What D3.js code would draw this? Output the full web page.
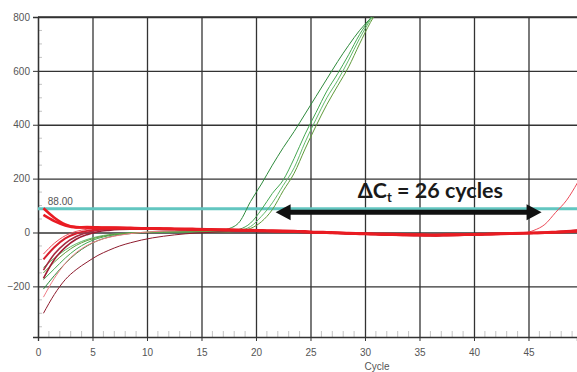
<!DOCTYPE html>
<html>
<head>
<meta charset="utf-8">
<script src="https://cdnjs.cloudflare.com/ajax/libs/d3/7.8.5/d3.min.js"></script>
<style>
body { margin: 0; background: #fff; }
.tick text, .lbl { font-family: "Liberation Sans Narrow", "Liberation Sans", sans-serif; font-size: 10px; fill: #555; }
</style>
</head>
<body>
<div id="chart"></div>
<script>
const cycles = [0.5, 1.5, 2.5, 3.5, 4.5, 5.5, 6.5, 7.5, 8.5, 9.5,
	10.5, 11.5, 12.5, 13.5, 14.5, 15.5, 16.5, 17.5, 18.5, 19.5,
	20.5, 21.5, 22.5, 23.5, 24.5, 25.5, 26.5, 27.5, 28.5, 29.5,
	30.5, 31.5, 32.5, 33.5, 34.5, 35.5, 36.5, 37.5, 38.5, 39.5,
	40.5, 41.5, 42.5, 43.5, 44.5, 45.5, 46.5, 47.5, 48.5, 49.5];
const xTicks = [0, 5, 10, 15, 20, 25, 30, 35, 40, 45, 50];
const yTicks = [-200, 0, 200, 400, 600, 800];
const threshold = 88;
const thresholdLabel = "88.00";

// amplified wells (green)
const green1 = [-210, -160, -115, -78, -50, -30, -17, -9, -4, -1, 1, 2, 3, 3, 4, 4, 6,
	14, 40, 115, 180, 250, 315, 375, 440, 505, 570, 635, 695, 750, 795, 840, 880];
const green2 = [-175, -135, -95, -62, -38, -22, -12, -6, -2, 0, 1, 2, 2, 3, 3, 4, 4,
	5, 12, 35, 85, 145, 195, 275, 365, 445, 525, 590, 660, 735, 795, 850, 900];
const green3 = [-130, -95, -65, -42, -26, -15, -8, -4, -1, 0, 1, 1, 2, 2, 3, 3, 3,
	3, 8, 22, 60, 110, 175, 240, 335, 420, 500, 565, 640, 720, 790, 850, 905];
const green4 = [-150, -110, -75, -48, -30, -18, -10, -5, -2, 0, 1, 2, 2, 2, 3, 3, 2,
	2, 6, 15, 40, 85, 155, 220, 310, 395, 475, 545, 615, 700, 780, 845, 900];

// non-amplified wells (red)
const red1 = [90, 55, 30, 20, 18, 17, 17, 16, 15, 15, 14, 14, 13, 12, 11, 10, 10, 9, 8, 7,
	6, 5, 4, 3, 2, 0, -1, -2, -4, -5, -6, -7, -8, -9, -9, -10, -10, -9, -9, -8,
	-7, -6, -5, -4, -3, -2, -1, 1, 2, 5];
const red2 = [65, 42, 26, 19, 20, 19, 18, 18, 17, 16, 16, 15, 14, 14, 13, 12, 11, 11, 10, 9,
	8, 7, 6, 5, 4, 2, 1, 0, -2, -3, -4, -5, -6, -7, -8, -8, -9, -8, -8, -7,
	-6, -5, -4, -3, -2, -1, 0, 2, 4, 7];
const red3 = [-100, -55, -22, -4, 6, 11, 13, 14, 14, 13, 13, 12, 12, 11, 10, 10, 9, 8, 7, 7,
	6, 5, 4, 3, 1, 0, -1, -3, -4, -5, -6, -8, -9, -10, -11, -11, -12, -11, -10, -9,
	-8, -7, -6, -5, -4, -3, -2, 0, 2, 4];
const red4 = [-170, -100, -55, -25, -8, 3, 8, 11, 12, 12, 12, 11, 11, 10, 10, 9, 8, 8, 7, 6,
	5, 4, 3, 2, 1, -1, -2, -3, -5, -6, -7, -8, -9, -10, -11, -12, -12, -11, -10, -9,
	-8, -7, -6, -5, -4, -3, -1, 1, 3, 5];
const red5 = [-240, -170, -115, -75, -48, -30, -18, -10, -4, 0, 3, 5, 6, 7, 7, 7, 7, 6, 6, 5,
	4, 3, 2, 1, 0, -1, -2, -3, -4, -5, -6, -7, -8, -9, -9, -9, -9, -8, -8, -7,
	-6, -5, -4, -3, -2, -1, 0, 2, 3, 5];
const red6 = [-300, -230, -175, -138, -110, -85, -66, -50, -38, -28, -20, -14, -9, -5, -2, 0, 2, 3, 3, 3,
	2, 2, 1, 0, -1, -2, -3, -4, -5, -6, -7, -8, -9, -10, -10, -10, -10, -9, -9, -8,
	-7, -6, -5, -4, -3, -2, -1, 1, 2, 4];
const red7 = [-140, -80, -40, -15, 0, 8, 13, 15, 16, 16, 15, 15, 14, 13, 13, 12, 11, 10, 9, 8,
	7, 6, 5, 4, 3, 1, 0, -1, -2, -4, -5, -6, -7, -8, -9, -9, -9, -9, -8, -8,
	-7, -6, -5, -4, -2, -1, 1, 3, 5, 8];
const red8 = [-80, -40, -12, 4, 12, 16, 17, 17, 16, 16, 15, 14, 14, 13, 12, 11, 10, 9, 8, 7,
	6, 5, 4, 3, 2, 1, -1, -2, -3, -4, -5, -6, -7, -8, -8, -9, -9, -8, -8, -7,
	-6, -5, -4, -3, -2, 8, 30, 75, 120, 185];

// annotation: delta Ct arrow between the two threshold crossings
const arrowFrom = 21.8, arrowTo = 46.2, arrowLevel = 75;
const noteCycle = 36, noteLevel = 128;

const greenRuns = [green1, green2, green3, green4];
const redRuns = [red6, red5, red4, red7, red8, red3, red2, red1];
const greenColors = ["#2e8a3c", "#45a852", "#62b96a", "#5f9a3a"];
const redColors = ["#8e1c2e", "#f07c86", "#9e1d34", "#a82a40", "#ec4a58", "#d61f2e", "#e81a24", "#ea1c22"];
const redWidths = [1, 1, 1.6, 1.6, 1, 2, 2.6, 2.6];

let canvasWidth = 577, canvasHeight = 372;
let margin = { top: 17, right: 0, bottom: 35, left: 38 };

let x = d3.scaleLinear().domain([0, 49.45]).range([margin.left, canvasWidth - margin.right]);
let y = d3.scaleLinear().domain([-388, 800]).range([canvasHeight - margin.bottom, margin.top]);

let svg = d3.select("#chart").append("svg")
	.attr("width", canvasWidth)
	.attr("height", canvasHeight)
	.style("display", "block");

svg.append("clipPath").attr("id", "plot")
	.append("rect")
		.attr("x", margin.left).attr("y", margin.top)
		.attr("width", canvasWidth - margin.left - margin.right)
		.attr("height", canvasHeight - margin.top - margin.bottom);

// minor ticks on both axes
svg.append("g")
	.selectAll("line")
	.data(d3.range(1, 50).filter((c) => c % 5 !== 0)).enter()
	.append("line")
		.attr("x1", (c) => x(c)).attr("x2", (c) => x(c))
		.attr("y1", y.range()[0] - 6).attr("y2", y.range()[0])
		.attr("stroke", "#c4c4c4");

svg.append("g")
	.selectAll("line")
	.data(d3.range(-350, 800, 50).filter((v) => v % 200 !== 0)).enter()
	.append("line")
		.attr("x1", margin.left).attr("x2", margin.left + 4)
		.attr("y1", (v) => y(v)).attr("y2", (v) => y(v))
		.attr("stroke", "#c4c4c4");

// major grid via axes
let xAxis = svg.append("g")
	.attr("transform", "translate(0," + y.range()[0] + ")")
	.call(d3.axisBottom(x).tickValues(xTicks).tickSize(4).tickPadding(8));
xAxis.selectAll(".tick").append("line")
	.attr("y2", -(y.range()[0] - margin.top))
	.attr("stroke", "#333").attr("stroke-width", 1.3);

let yAxis = svg.append("g")
	.attr("transform", "translate(" + margin.left + ",0)")
	.call(d3.axisLeft(y).tickValues(yTicks).tickSize(5).tickPadding(3));
yAxis.selectAll(".tick").append("line")
	.attr("x2", canvasWidth - margin.left)
	.attr("stroke", "#333").attr("stroke-width", 1.3);

svg.append("line")
	.attr("x1", margin.left).attr("x2", canvasWidth)
	.attr("y1", y(800)).attr("y2", y(800))
	.attr("stroke", "#333").attr("stroke-width", 1.3);

svg.selectAll(".domain").attr("stroke", "#333").attr("stroke-width", 1.3);
svg.selectAll(".tick > line:first-child").attr("stroke", "#333");

svg.append("text").attr("class", "lbl")
	.attr("x", 377).attr("y", 370)
	.attr("text-anchor", "middle")
	.text("Cycle");

// threshold
svg.append("line")
	.attr("x1", margin.left).attr("x2", canvasWidth)
	.attr("y1", y(threshold)).attr("y2", y(threshold))
	.attr("stroke", "#62c6c0").attr("stroke-width", 3);

svg.append("text").attr("class", "lbl")
	.attr("x", x(0.9)).attr("y", y(threshold) - 4)
	.text(thresholdLabel);

// curves
let line = d3.line()
	.x((d, i) => x(cycles[i]))
	.y((d) => y(d))
	.curve(d3.curveMonotoneX);

let curves = svg.append("g").attr("clip-path", "url(#plot)").attr("fill", "none");

curves.selectAll("path.g")
	.data(greenRuns).enter()
	.append("path")
		.attr("d", line)
		.attr("stroke", (d, i) => greenColors[i])
		.attr("stroke-width", 1);

curves.selectAll("path.r")
	.data(redRuns).enter()
	.append("path")
		.attr("d", line)
		.attr("stroke", (d, i) => redColors[i])
		.attr("stroke-width", (d, i) => redWidths[i]);

// delta Ct annotation
let ay = y(arrowLevel), ax1 = x(arrowFrom), ax2 = x(arrowTo), head = 15;
svg.append("line")
	.attr("x1", ax1 + head - 2).attr("x2", ax2 - head + 2)
	.attr("y1", ay).attr("y2", ay)
	.attr("stroke", "#111").attr("stroke-width", 5);

svg.append("path")
	.attr("d", "M" + ax1 + "," + ay + "L" + (ax1 + head) + "," + (ay - 8) + "L" + (ax1 + head) + "," + (ay + 8) + "Z"
		+ "M" + ax2 + "," + ay + "L" + (ax2 - head) + "," + (ay - 8) + "L" + (ax2 - head) + "," + (ay + 8) + "Z")
	.attr("fill", "#111");

let note = svg.append("text")
	.attr("x", x(noteCycle)).attr("y", y(noteLevel))
	.attr("text-anchor", "middle")
	.style("font-family", "Lato, 'Open Sans', sans-serif")
	.style("font-weight", "bold")
	.style("font-size", "21.5px")
	.attr("fill", "#1a1a1a");
note.append("tspan").text("ΔC");
note.append("tspan").attr("dy", 4).style("font-size", "13px").text("t");
note.append("tspan").attr("dy", -4).text(" = 26 cycles");
</script>
</body>
</html>
